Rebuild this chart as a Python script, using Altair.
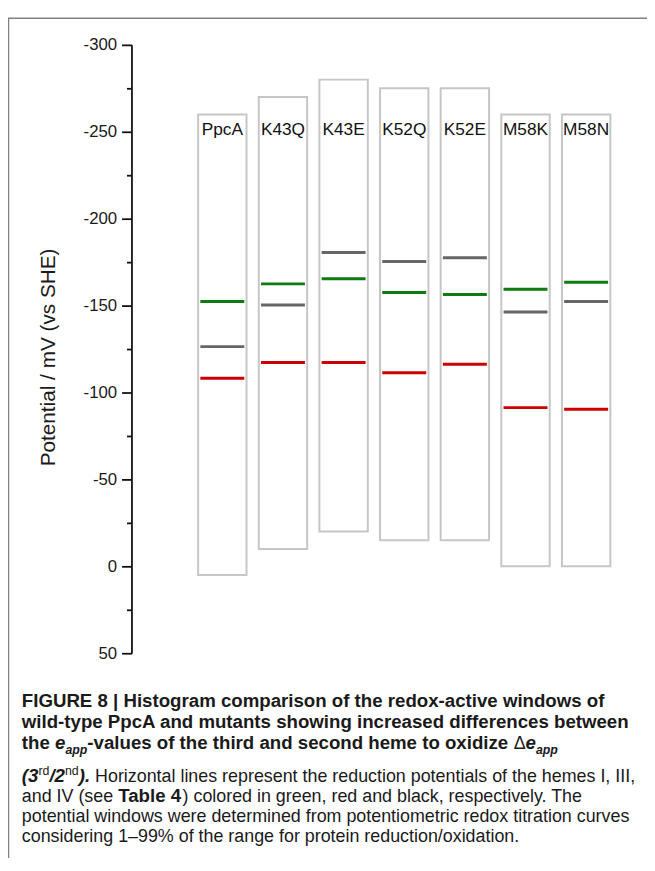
import altair as alt
import pandas as pd

# ---------------- data ----------------
proteins = ["PpcA", "K43Q", "K43E", "K52Q", "K52E", "M58K", "M58N"]
window_top = [-260, -270, -280, -275, -275, -260, -260]      # redox window upper limit (mV)
window_bottom = [5, -10, -20, -15, -15, 0, 0]                # redox window lower limit (mV)
heme_I = [-152.4, -162.5, -165.5, -157.5, -156.4, -159.4, -163.4]    # green
heme_III = [-108.2, -117.3, -117.3, -111.4, -116.3, -91.3, -90.4]    # red
heme_IV = [-126.4, -150.3, -180.5, -175.4, -177.5, -146.3, -152.4]   # grey
heme_names = ["I", "III", "IV"]
heme_colors = ["#0f7a12", "#cc0000", "#666666"]
label_level = -248
y_ticks = list(range(-300, 51, 25))
y_title = "Potential / mV (vs SHE)"

caption_lines = [
    ["FIGURE 8 | Histogram comparison of the redox-active windows of"],
    ["wild-type PpcA and mutants showing increased differences between"],
    ["the ", "e", "app", "-values of the third and second heme to oxidize ", "Δ", "e", "app"],
    ["(3", "rd", "/2", "nd", ").", " Horizontal lines represent the reduction potentials of the hemes I, III,"],
    ["and IV (see ", "Table 4", ") colored in green, red and black, respectively. The"],
    ["potential windows were determined from potentiometric redox titration curves"],
    ["considering 1–99% of the range for protein reduction/oxidation."],
]
caption_styles = [
    ["b"],
    ["b"],
    ["b", "bi", "subbi", "b", "r", "bi", "subbi"],
    ["bi", "supr", "bi", "supr", "bi", "r"],
    ["r", "b", "r"],
    ["r"],
    ["r"],
]

# ---------------- layout ----------------
FONT = "Liberation Sans"
PLOT_W, PLOT_H = 500, 616
PAD = {"left": 125, "top": 32, "right": 22, "bottom": 202}
ORIGIN_X = 8 + PAD["left"]   # page x of the plot's left edge
ORIGIN_Y = 8 + PAD["top"]    # page y of the plot's top edge

BOLD_SIZE, REG_SIZE, SMALL_SIZE = 18.9, 18.1, 12.5
caption_left = 22
caption_baselines = [710.5, 731.5, 752.5, 786, 807, 827, 847.5]

# Arial / Liberation Sans advance widths (1/1000 em)
REG_W = {" ": 278, "%": 889, "(": 333, ")": 333, ",": 278, "-": 333, ".": 278, "/": 278,
         "|": 260, "–": 556, "Δ": 668}
for c in "0123456789":
    REG_W[c] = 556
REG_W.update(dict(zip("ABCDEFGHIJKLMNOPQRSTUVWXYZ",
                      [667, 667, 722, 722, 667, 611, 778, 722, 278, 500, 667, 556, 833, 722, 778,
                       667, 778, 722, 667, 611, 722, 667, 944, 667, 667, 611])))
REG_W.update(dict(zip("abcdefghijklmnopqrstuvwxyz",
                      [556, 556, 500, 556, 556, 278, 556, 556, 222, 222, 500, 222, 833, 556, 556,
                       556, 556, 333, 500, 278, 556, 500, 722, 500, 500, 500])))
BOLD_W = {" ": 278, "%": 889, "(": 333, ")": 333, ",": 278, "-": 333, ".": 278, "/": 278,
          "|": 280, "–": 556, "Δ": 722}
for c in "0123456789":
    BOLD_W[c] = 556
BOLD_W.update(dict(zip("ABCDEFGHIJKLMNOPQRSTUVWXYZ",
                       [722, 722, 722, 722, 667, 611, 778, 722, 278, 556, 722, 611, 833, 722, 778,
                        667, 778, 722, 667, 611, 722, 667, 944, 667, 667, 611])))
BOLD_W.update(dict(zip("abcdefghijklmnopqrstuvwxyz",
                       [556, 611, 556, 611, 556, 333, 611, 611, 278, 278, 556, 278, 889, 611, 611,
                        611, 611, 389, 556, 333, 611, 556, 778, 556, 556, 500])))

STYLE = {
    "b": dict(size=BOLD_SIZE, weight="bold", fstyle="normal", shift=0, table=BOLD_W),
    "bi": dict(size=BOLD_SIZE, weight="bold", fstyle="italic", shift=0, table=BOLD_W),
    "r": dict(size=REG_SIZE, weight="normal", fstyle="normal", shift=0, table=REG_W),
    "subbi": dict(size=SMALL_SIZE, weight="bold", fstyle="italic", shift=6, table=BOLD_W),
    "supr": dict(size=SMALL_SIZE, weight="normal", fstyle="normal", shift=-7, table=REG_W),
}


def text_width(s, st):
    return sum(st["table"].get(ch, 556) for ch in s) / 1000.0 * st["size"]


# ---------------- main chart ----------------
windows = pd.DataFrame({"protein": proteins, "top": window_top, "bottom": window_bottom})
hemes = pd.DataFrame({
    "protein": proteins * 3,
    "heme": ["I"] * 7 + ["III"] * 7 + ["IV"] * 7,
    "value": heme_I + heme_III + heme_IV,
})
labels = pd.DataFrame({"protein": proteins})

x_enc = alt.X("protein:N", sort=proteins,
              scale=alt.Scale(paddingInner=0.202, paddingOuter=0.673, align=0.817),
              axis=None)
y_scale = alt.Scale(domain=[-300, 50], reverse=True, nice=False, zero=False)
y_axis = alt.Axis(
    values=y_ticks,
    labelExpr="datum.value % 50 === 0 ? '' + datum.value : ''",
    tickSize={"condition": {"test": "datum.value % 50 === 0", "value": 10}, "value": 5},
    tickColor="#111111", tickWidth=1.8,
    domainColor="#111111", domainWidth=1.8,
    labelFont=FONT, labelFontSize=17, labelColor="#1a1a1a", labelPadding=5,
    grid=False,
    title=y_title, titleFont=FONT, titleFontSize=21, titleFontWeight="normal",
    titleColor="#1a1a1a", titleAngle=270, titleAlign="center", titleBaseline="alphabetic",
    titleX=-78, titleY=316,
)

boxes = alt.Chart(windows).mark_rect(fill="white", stroke="#c6c6c6", strokeWidth=2).encode(
    x=x_enc,
    y=alt.Y("top:Q", scale=y_scale, axis=y_axis),
    y2="bottom:Q",
)

lines = alt.Chart(hemes).mark_tick(orient="horizontal", size=44.5, thickness=3, opacity=1).encode(
    x=x_enc,
    y=alt.Y("value:Q", scale=y_scale),
    color=alt.Color("heme:N", scale=alt.Scale(domain=heme_names, range=heme_colors), legend=None),
)

names = alt.Chart(labels).mark_text(font=FONT, fontSize=17.5, baseline="alphabetic",
                                    align="center", color="#111111").encode(
    x=x_enc,
    y=alt.datum(label_level),
    text="protein:N",
)

# ---------------- caption (real text) ----------------
caption_layers = []
for line, styles, base in zip(caption_lines, caption_styles, caption_baselines):
    xpos = caption_left
    for seg, sname in zip(line, styles):
        st = STYLE[sname]
        stripped = seg.lstrip(" ")
        lead = text_width(seg[: len(seg) - len(stripped)], st)
        draw = stripped.rstrip(" ")
        if draw:
            caption_layers.append(
                alt.Chart(pd.DataFrame({"t": [draw]})).mark_text(
                    align="left", baseline="alphabetic", font=FONT, fontSize=st["size"],
                    fontWeight=st["weight"], fontStyle=st["fstyle"], color="#1a1a1a",
                ).encode(
                    text="t:N",
                    x=alt.value(xpos + lead - ORIGIN_X),
                    y=alt.value(base + st["shift"] - ORIGIN_Y),
                )
            )
        xpos += text_width(seg, st)

# ---------------- figure frame ----------------
one = pd.DataFrame({"k": [0]})
frame_top = alt.Chart(one).mark_rule(color="#808080", strokeWidth=1.5).encode(
    x=alt.value(8 - ORIGIN_X), x2=alt.value(655 - ORIGIN_X), y=alt.value(13 - ORIGIN_Y))
frame_left = alt.Chart(one).mark_rule(color="#808080", strokeWidth=1.5).encode(
    x=alt.value(8.5 - ORIGIN_X), y=alt.value(13 - ORIGIN_Y), y2=alt.value(871 - ORIGIN_Y))

chart = alt.layer(boxes, lines, names, *caption_layers, frame_top, frame_left).properties(
    width=PLOT_W, height=PLOT_H, autosize="none", padding=PAD,
).configure_view(stroke=None)

chart.save("out.html", embed_options={"renderer": "svg", "actions": False})
